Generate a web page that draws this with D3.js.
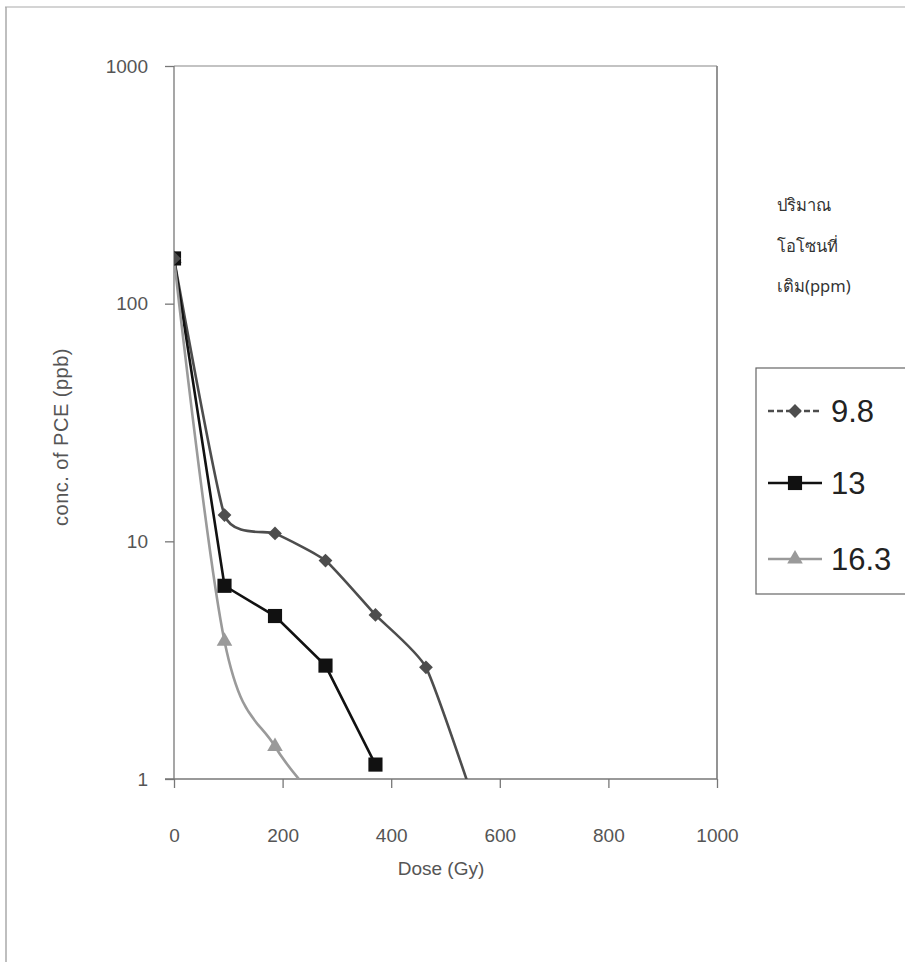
<!DOCTYPE html>
<html>
<head>
<meta charset="utf-8">
<script src="https://cdn.jsdelivr.net/npm/d3@7"></script>
<style>
  html, body { margin: 0; padding: 0; background: #fff; }
  svg { display: block; }
  text { font-family: Arial, "Liberation Sans", sans-serif; }
</style>
</head>
<body>
<svg id="chart" width="905" height="962"></svg>
<script>
// Dose (Gy) at each sampling step
const doses = [0, 93, 186, 279, 371, 464, 557];

// PCE concentration (ppb) for each ozone dose added (ppm)
const pce98  = [155, 12.9, 10.8, 8.3, 4.9, 2.95, 0.75];
const pce13  = [155, 6.5, 4.85, 3.0, 1.15];
const pce163 = [155, 3.8, 1.37, 0.75];

const seriesNames = ["9.8", "13", "16.3"];
const xTicks = [0, 200, 400, 600, 800, 1000];
const yTicks = [1, 10, 100, 1000];
const legendTitle = ["ปริมาณ", "โอโซนที่", "เติม(ppm)"];

const svg = d3.select("#chart");

// outer frame
svg.append("line").attr("x1", 5).attr("x2", 905).attr("y1", 7).attr("y2", 7)
  .attr("stroke", "#aaa").attr("stroke-width", 1.2);
svg.append("line").attr("x1", 6).attr("x2", 6).attr("y1", 7).attr("y2", 962)
  .attr("stroke", "#aaa").attr("stroke-width", 1.5);

const plotL = 174, plotR = 717, plotT = 66, plotB = 779;
const x = d3.scaleLinear().domain([0, 1000]).range([plotL, plotR]);
const y = d3.scaleLog().domain([1, 1000]).range([plotB, plotT]);

// plot area border (top and right)
svg.append("line").attr("x1", plotL).attr("x2", plotR).attr("y1", plotT).attr("y2", plotT)
  .attr("stroke", "#888").attr("stroke-width", 1.2);
svg.append("line").attr("x1", plotR).attr("x2", plotR).attr("y1", plotT).attr("y2", plotB)
  .attr("stroke", "#888").attr("stroke-width", 1.8);

svg.append("clipPath").attr("id", "plotClip")
  .append("rect").attr("x", plotL).attr("y", plotT - 20)
  .attr("width", plotR - plotL + 10).attr("height", plotB - plotT + 20);

// axes
const xAxis = d3.axisBottom(x).tickValues(xTicks).tickSize(9).tickPadding(41)
  .tickFormat(d3.format("d"));
const gx = svg.append("g").attr("transform", `translate(0,${plotB})`).call(xAxis);
gx.select(".domain").attr("d", `M${plotL - 9},0H${plotR}`);

const yAxis = d3.axisLeft(y).tickValues(yTicks).tickSize(9).tickPadding(17)
  .tickFormat(d3.format("d"));
const gy = svg.append("g").attr("transform", `translate(${plotL},0)`).call(yAxis);
gy.select(".domain").attr("d", `M0,${plotT}V${plotB}`);

[gx, gy].forEach(g => {
  g.attr("font-size", null).attr("font-family", null);
  g.selectAll(".domain").attr("stroke", "#777").attr("stroke-width", 1.3);
  g.selectAll(".tick line").attr("stroke", "#777").attr("stroke-width", 1.3);
  g.selectAll(".tick text").attr("fill", "#555").style("font-size", "19px");
});

// axis titles
svg.append("text").attr("x", 441).attr("y", 875).attr("text-anchor", "middle")
  .attr("fill", "#555").style("font-size", "19px").text("Dose (Gy)");
svg.append("text").attr("transform", "translate(68,437) rotate(-90)")
  .attr("text-anchor", "middle").attr("fill", "#555").style("font-size", "20px")
  .style("letter-spacing", "0.5px")
  .text("conc. of PCE (ppb)");

const plot = svg.append("g").attr("clip-path", "url(#plotClip)");

const pts = vals => vals.map((v, i) => [x(doses[i]), y(v)]);
const softCurve = d3.line().curve(d3.curveCardinal.tension(0.5));
const catmull = d3.line().curve(d3.curveCatmullRom.alpha(0));
const straight = d3.line();

const series = [
  { vals: pce98, color: "#4d4d4d", line: softCurve, marker: "diamond" },
  { vals: pce13, color: "#111", line: straight, marker: "square" },
  { vals: pce163, color: "#9a9a9a", line: catmull, marker: "triangle" }
];

const symbolFor = {
  diamond: d3.symbol().type(d3.symbolSquare).size(95),
  square: d3.symbol().type(d3.symbolSquare).size(200),
  triangle: d3.symbol().type(d3.symbolTriangle).size(105)
};

series.forEach(s => {
  plot.append("path").attr("d", s.line(pts(s.vals)))
    .attr("fill", "none").attr("stroke", s.color).attr("stroke-width", 2.6);
});

series.slice().reverse().forEach(s => {
  plot.selectAll(null).data(s.vals.map((v, i) => [doses[i], v]).filter(d => d[1] >= 1))
    .enter().append("path")
    .attr("d", symbolFor[s.marker]())
    .attr("transform", d => `translate(${x(d[0])},${y(d[1])})` + (s.marker === "diamond" ? " rotate(45)" : ""))
    .attr("fill", s.color);
});

// legend title
legendTitle.forEach((t, i) => {
  svg.append("text").attr("x", 777).attr("y", 211 + i * 40.5)
    .attr("fill", "#333").style("font-size", "16.5px")
    .style("font-family", "'Noto Sans', 'DejaVu Sans', sans-serif").text(t);
});

// legend box
svg.append("rect").attr("x", 756).attr("y", 368).attr("width", 150).attr("height", 226)
  .attr("fill", "#fff").attr("stroke", "#666").attr("stroke-width", 1.2);

const legendRows = [411, 483, 559];
series.forEach((s, i) => {
  const ly = legendRows[i];
  svg.append("line").attr("x1", 768).attr("x2", 822).attr("y1", ly).attr("y2", ly)
    .attr("stroke", s.color).attr("stroke-width", 2.4)
    .attr("stroke-dasharray", i === 0 ? "6,3" : null);
  svg.append("path").attr("d", symbolFor[s.marker]())
    .attr("transform", `translate(795,${ly})` + (s.marker === "diamond" ? " rotate(45)" : ""))
    .attr("fill", s.color);
  svg.append("text").attr("x", 831).attr("y", ly + 11)
    .attr("fill", "#222").style("font-size", "31px").text(seriesNames[i]);
});
</script>
</body>
</html>
